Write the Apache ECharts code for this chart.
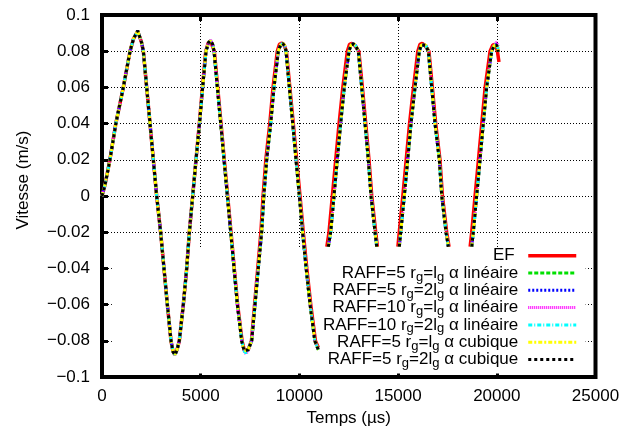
<!DOCTYPE html>
<html>
<head>
<meta charset="utf-8">
<script src="https://cdn.jsdelivr.net/npm/echarts@6/dist/echarts.min.js"></script>
<style>
html,body{margin:0;padding:0;background:#fff;}
#c{width:624px;height:434px;}
</style>
</head>
<body>
<div id="c"></div>
<script>
// ---------- axis ticks ----------
const xTickLabels = ['0', '5000', '10000', '15000', '20000', '25000'];
const yTickLabels = ['\u22120.1', '\u22120.08', '\u22120.06', '\u22120.04', '\u22120.02', '0', '0.02', '0.04', '0.06', '0.08', '0.1'];

// ---------- legend / series names ----------
const seriesNames = [
  'EF',
  'RAFF=5 rg=lg α linéaire',
  'RAFF=5 rg=2lg α linéaire',
  'RAFF=10 rg=lg α linéaire',
  'RAFF=10 rg=2lg α linéaire',
  'RAFF=5 rg=lg α cubique',
  'RAFF=5 rg=2lg α cubique'
];
const legendLabels = [
  '{n|EF}{s| }',
  '{n|RAFF=5 r}{s|g}{n|=l}{s|g}{n| α linéaire}',
  '{n|RAFF=5 r}{s|g}{n|=2l}{s|g}{n| α linéaire}',
  '{n|RAFF=10 r}{s|g}{n|=l}{s|g}{n| α linéaire}',
  '{n|RAFF=10 r}{s|g}{n|=2l}{s|g}{n| α linéaire}',
  '{n|RAFF=5 r}{s|g}{n|=l}{s|g}{n| α cubique}',
  '{n|RAFF=5 r}{s|g}{n|=2l}{s|g}{n| α cubique}'
];

// ---------- EF data (time µs, velocity m/s), null = gap ----------
const tEF = [
  0,150,400,700,1080,1420,1600,1808,2000,2094,2263,2432,2600,2770,2970,3140,3310,3495,3600,3698,3800,3917,4120,4290,4425,4594,4762,4930,5090,5255,5390,5500,5600,5690,5860,6030,6195,6365,6535,6700,6870,7095,7210,7300,7400,7570,7730,7890,8050,8160,8300,8500,8665,8880,8990,9110,9240,9340,9515,9690,9860,10030,10195,10375,10575,10810,10960,
  11200,
  11390,11500,11670,11840,12010,12200,12430,12540,12660,12800,13010,13190,13360,13525,13665,13865,13950,
  14500,
  14990,15060,15240,15410,15580,15780,16000,16110,16220,16360,16560,16735,16905,17120,17245,17460,17580,
  18100,
  18650,18730,18900,19070,19240,19410,19660,19800,19930,20030,20110
];
const vEF = [
  0,0.006,0.020,0.040,0.060,0.080,0.087,0.0910,0.085,0.080,0.060,0.040,0.020,0,-0.020,-0.040,-0.060,-0.080,-0.086,-0.0875,-0.085,-0.080,-0.060,-0.040,-0.020,0,0.020,0.040,0.060,0.080,0.0848,0.0855,0.0845,0.080,0.060,0.040,0.020,0,-0.020,-0.040,-0.060,-0.080,-0.0852,-0.0862,-0.085,-0.080,-0.060,-0.040,-0.020,0,0.020,0.040,0.060,0.080,0.0838,0.0845,0.083,0.080,0.060,0.040,0.020,0,-0.020,-0.040,-0.060,-0.080,-0.0838,
  null,
  -0.028,-0.020,0,0.020,0.040,0.060,0.080,0.0838,0.0843,0.0832,0.080,0.060,0.040,0.020,0,-0.020,-0.028,
  null,
  -0.028,-0.020,0,0.020,0.040,0.060,0.080,0.0838,0.0843,0.0832,0.080,0.060,0.040,0.020,0,-0.020,-0.028,
  null,
  -0.028,-0.020,0,0.020,0.040,0.060,0.080,0.0835,0.0837,0.080,0.074
];

// ---------- RAFF data: shared time base ----------
const tRaff = [
  0,150,400,700,1080,1420,1600,1808,2000,2094,2263,2432,2600,2770,2970,3140,3310,3495,3600,3698,3800,3917,4120,4290,4425,4594,4762,4940,5100,5269,5400,5507,5600,5674,5843,6013,6181,6350,6520,6687,6856,7077,7200,7295,7400,7584,7752,7920,8088,8200,8343,8546,8714,8932,9050,9153,9250,9321,9490,9660,9828,9997,10160,10340,10540,10780,10960,
  11200,
  11465,11585,11753,11920,12090,12275,12513,12620,12733,12850,12985,13155,13325,13490,13628,13830,13916,
  14500,
  15063,15133,15315,15487,15655,15857,16075,16180,16278,16400,16531,16700,16870,17088,17210,17427,17545,
  18100,
  18730,18810,18980,19150,19317,19487,19740,19870,19995,20077
];
const vRaff5Lin = [
  0,0.006,0.020,0.040,0.060,0.080,0.087,0.0913,0.085,0.080,0.060,0.040,0.020,0,-0.020,-0.040,-0.060,-0.080,-0.086,-0.0878,-0.085,-0.080,-0.060,-0.040,-0.020,0,0.020,0.040,0.060,0.080,0.0848,0.0858,0.084,0.080,0.060,0.040,0.020,0,-0.020,-0.040,-0.060,-0.080,-0.0855,-0.0866,-0.085,-0.080,-0.060,-0.040,-0.020,0,0.020,0.040,0.060,0.080,0.0835,0.0843,0.083,0.080,0.060,0.040,0.020,0,-0.020,-0.040,-0.060,-0.080,-0.085,
  null,
  -0.028,-0.020,0,0.020,0.040,0.060,0.080,0.0835,0.0840,0.083,0.080,0.060,0.040,0.020,0,-0.020,-0.028,
  null,
  -0.028,-0.020,0,0.020,0.040,0.060,0.080,0.0835,0.0840,0.0832,0.080,0.060,0.040,0.020,0,-0.020,-0.028,
  null,
  -0.028,-0.020,0,0.020,0.040,0.060,0.080,0.0830,0.0834,0.0797
];
const vRaff5x2Lin = [
  0,0.006,0.020,0.040,0.060,0.080,0.087,0.0912,0.085,0.080,0.060,0.040,0.020,0,-0.020,-0.040,-0.060,-0.080,-0.086,-0.0875,-0.085,-0.080,-0.060,-0.040,-0.020,0,0.020,0.040,0.060,0.080,0.0846,0.0855,0.084,0.080,0.060,0.040,0.020,0,-0.020,-0.040,-0.060,-0.080,-0.0855,-0.0864,-0.085,-0.080,-0.060,-0.040,-0.020,0,0.020,0.040,0.060,0.080,0.0835,0.0842,0.083,0.080,0.060,0.040,0.020,0,-0.020,-0.040,-0.060,-0.080,-0.085,
  null,
  -0.028,-0.020,0,0.020,0.040,0.060,0.080,0.0834,0.0840,0.083,0.080,0.060,0.040,0.020,0,-0.020,-0.028,
  null,
  -0.028,-0.020,0,0.020,0.040,0.060,0.080,0.0834,0.0839,0.0832,0.080,0.060,0.040,0.020,0,-0.020,-0.028,
  null,
  -0.028,-0.020,0,0.020,0.040,0.060,0.080,0.0832,0.0838,0.0805
];
const vRaff10Lin = [
  0,0.006,0.020,0.040,0.060,0.080,0.087,0.0914,0.085,0.080,0.060,0.040,0.020,0,-0.020,-0.040,-0.060,-0.080,-0.086,-0.0878,-0.085,-0.080,-0.060,-0.040,-0.020,0,0.020,0.040,0.060,0.080,0.0850,0.0860,0.0842,0.080,0.060,0.040,0.020,0,-0.020,-0.040,-0.060,-0.080,-0.0858,-0.0872,-0.0855,-0.080,-0.060,-0.040,-0.020,0,0.020,0.040,0.060,0.080,0.0838,0.0846,0.0832,0.080,0.060,0.040,0.020,0,-0.020,-0.040,-0.060,-0.080,-0.085,
  null,
  -0.028,-0.020,0,0.020,0.040,0.060,0.080,0.0836,0.0842,0.0832,0.080,0.060,0.040,0.020,0,-0.020,-0.028,
  null,
  -0.028,-0.020,0,0.020,0.040,0.060,0.080,0.0836,0.0842,0.0834,0.080,0.060,0.040,0.020,0,-0.020,-0.028,
  null,
  -0.028,-0.020,0,0.020,0.040,0.060,0.080,0.0838,0.0848,0.0825
];
const vRaff10x2Lin = [
  0,0.006,0.020,0.040,0.060,0.080,0.087,0.0912,0.085,0.080,0.060,0.040,0.020,0,-0.020,-0.040,-0.060,-0.080,-0.086,-0.0877,-0.085,-0.080,-0.060,-0.040,-0.020,0,0.020,0.040,0.060,0.080,0.0848,0.0857,0.084,0.080,0.060,0.040,0.020,0,-0.020,-0.040,-0.060,-0.080,-0.0856,-0.0868,-0.085,-0.080,-0.060,-0.040,-0.020,0,0.020,0.040,0.060,0.080,0.0836,0.0843,0.083,0.080,0.060,0.040,0.020,0,-0.020,-0.040,-0.060,-0.080,-0.085,
  null,
  -0.028,-0.020,0,0.020,0.040,0.060,0.080,0.0835,0.0841,0.083,0.080,0.060,0.040,0.020,0,-0.020,-0.028,
  null,
  -0.028,-0.020,0,0.020,0.040,0.060,0.080,0.0835,0.0841,0.0832,0.080,0.060,0.040,0.020,0,-0.020,-0.028,
  null,
  -0.028,-0.020,0,0.020,0.040,0.060,0.080,0.0833,0.0840,0.0810
];
const vRaff5Cub = [
  0,0.006,0.020,0.040,0.060,0.080,0.087,0.0913,0.085,0.080,0.060,0.040,0.020,0,-0.020,-0.040,-0.060,-0.080,-0.086,-0.0877,-0.085,-0.080,-0.060,-0.040,-0.020,0,0.020,0.040,0.060,0.080,0.0848,0.0857,0.0842,0.080,0.060,0.040,0.020,0,-0.020,-0.040,-0.060,-0.080,-0.0855,-0.0866,-0.085,-0.080,-0.060,-0.040,-0.020,0,0.020,0.040,0.060,0.080,0.0836,0.0846,0.0834,0.080,0.060,0.040,0.020,0,-0.020,-0.040,-0.060,-0.080,-0.085,
  null,
  -0.028,-0.020,0,0.020,0.040,0.060,0.080,0.0835,0.0841,0.0834,0.080,0.060,0.040,0.020,0,-0.020,-0.028,
  null,
  -0.028,-0.020,0,0.020,0.040,0.060,0.080,0.0834,0.0840,0.0834,0.080,0.060,0.040,0.020,0,-0.020,-0.028,
  null,
  -0.028,-0.020,0,0.020,0.040,0.060,0.080,0.0831,0.0836,0.0800
];
const vRaff5x2Cub = [
  0,0.006,0.020,0.040,0.060,0.080,0.087,0.0913,0.085,0.080,0.060,0.040,0.020,0,-0.020,-0.040,-0.060,-0.080,-0.086,-0.0878,-0.085,-0.080,-0.060,-0.040,-0.020,0,0.020,0.040,0.060,0.080,0.0848,0.0858,0.084,0.080,0.060,0.040,0.020,0,-0.020,-0.040,-0.060,-0.080,-0.0855,-0.0866,-0.085,-0.080,-0.060,-0.040,-0.020,0,0.020,0.040,0.060,0.080,0.0835,0.0843,0.083,0.080,0.060,0.040,0.020,0,-0.020,-0.040,-0.060,-0.080,-0.085,
  null,
  -0.028,-0.020,0,0.020,0.040,0.060,0.080,0.0835,0.0840,0.083,0.080,0.060,0.040,0.020,0,-0.020,-0.028,
  null,
  -0.028,-0.020,0,0.020,0.040,0.060,0.080,0.0835,0.0840,0.0832,0.080,0.060,0.040,0.020,0,-0.020,-0.028,
  null,
  -0.028,-0.020,0,0.020,0.040,0.060,0.080,0.0830,0.0834,0.0797
];

// ---------- build ----------
function pairs(t, v) {
  if (t.length !== v.length) throw new Error('length mismatch ' + t.length + ' vs ' + v.length);
  return t.map((x, i) => [x, v[i] === null ? '-' : v[i]]);
}
const seriesData = [
  pairs(tEF, vEF),
  pairs(tRaff, vRaff5Lin),
  pairs(tRaff, vRaff5x2Lin),
  pairs(tRaff, vRaff10Lin),
  pairs(tRaff, vRaff10x2Lin),
  pairs(tRaff, vRaff5Cub),
  pairs(tRaff, vRaff5x2Cub)
];
const styles = [
  { color: '#ff0000', width: 3.5, type: 'solid' },
  { color: '#00e000', width: 3, type: [4, 2] },
  { color: '#0000ff', width: 3, type: [2, 2] },
  { color: '#ff00ff', width: 3, type: [1, 1] },
  { color: '#00ffff', width: 3, type: [4, 2, 1, 2] },
  { color: '#ffff00', width: 3, type: [4, 2, 2, 2] },
  { color: '#000000', width: 3, type: [3, 3] }
];

const FONT = 'Liberation Sans';
const X_MIN = 0, X_MAX = 25000, X_INT = 5000;
const Y_MIN = -0.1, Y_MAX = 0.1, Y_INT = 0.02;

const series = seriesNames.map((name, i) => ({
  name: name,
  type: 'line',
  data: seriesData[i],
  symbol: 'none',
  showSymbol: false,
  connectNulls: false,
  color: styles[i].color,
  lineStyle: { color: styles[i].color, width: styles[i].width, type: styles[i].type },
  z: 2
}));
// white key background hiding grid lines (behind curves)
series.unshift({
  name: '__mask',
  type: 'line',
  data: [],
  silent: true,
  z: 1,
  markArea: {
    silent: true,
    z: 1,
    itemStyle: { color: '#ffffff', borderWidth: 0 },
    label: { show: false },
    data: [[{ xAxis: 500, yAxis: -0.098 }, { xAxis: 24500, yAxis: -0.029 }]]
  }
});

const chart = echarts.init(document.getElementById('c'), null, { renderer: 'canvas' });
chart.setOption({
  animation: false,
  backgroundColor: '#ffffff',
  textStyle: { fontFamily: FONT },
  grid: { left: 102, right: 28.5, top: 15, bottom: 57, show: true, borderColor: '#000', borderWidth: 4, backgroundColor: 'transparent' },
  legend: {
    data: seriesNames,
    orient: 'vertical',
    right: 46,
    top: 247,
    align: 'right',
    padding: 0,
    itemGap: -1.9,
    itemWidth: 48,
    itemHeight: 10,
    itemStyle: { opacity: 0 },
    lineStyle: { width: 'inherit', opacity: 1 },
    formatter: name => legendLabels[seriesNames.indexOf(name)],
    textStyle: {
      color: '#000',
      fontFamily: FONT,
      fontSize: 17,
      lineHeight: 17.4,
      padding: [0, 5, 0, 0],
      rich: {
        n: { fontFamily: FONT, fontSize: 17, lineHeight: 17.4, color: '#000' },
        s: { fontFamily: FONT, fontSize: 13, lineHeight: 17.4, height: 4, color: '#000', padding: [8, 0, 0, 0] }
      }
    }
  },
  xAxis: [{
    type: 'value', min: X_MIN, max: X_MAX, interval: X_INT, position: 'bottom',
    axisLine: { show: false, onZero: false },
    axisTick: { show: true, inside: true, length: 6, lineStyle: { color: '#000', width: 3 } },
    axisLabel: { color: '#000', fontSize: 17, fontFamily: FONT, margin: 11,
      formatter: v => xTickLabels[Math.round((v - X_MIN) / X_INT)] },
    splitLine: { show: true, lineStyle: { color: '#000', width: 1, type: [1, 2] } },
    name: 'Temps (µs)', nameLocation: 'middle', nameGap: 29,
    nameTextStyle: { color: '#000', fontSize: 17, fontFamily: FONT }
  }, {
    type: 'value', min: X_MIN, max: X_MAX, interval: X_INT, position: 'top',
    axisLine: { show: false, onZero: false },
    axisTick: { show: true, inside: true, length: 6, lineStyle: { color: '#000', width: 3 } },
    axisLabel: { show: false },
    splitLine: { show: false }
  }],
  yAxis: [{
    type: 'value', min: Y_MIN, max: Y_MAX, interval: Y_INT, position: 'left',
    axisLine: { show: false, onZero: false },
    axisTick: { show: true, inside: true, length: 6, lineStyle: { color: '#000', width: 3 } },
    axisLabel: { color: '#000', fontSize: 17, fontFamily: FONT, margin: 12,
      formatter: v => yTickLabels[Math.round((v - Y_MIN) / Y_INT)] },
    splitLine: { show: true, lineStyle: { color: '#000', width: 1, type: [1, 2] } },
    name: 'Vitesse (m/s)', nameLocation: 'middle', nameGap: 70,
    nameTextStyle: { color: '#000', fontSize: 17, fontFamily: FONT, padding: [0, 0, 0, 32] }
  }],
  series: series
});
</script>
</body>
</html>
